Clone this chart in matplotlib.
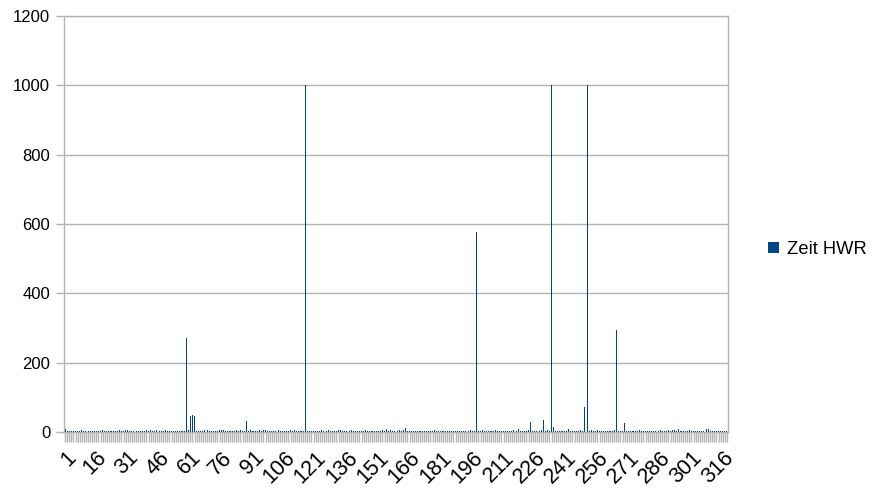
import numpy as np
import matplotlib.pyplot as plt

plt.rcParams['font.family'] = ['Liberation Sans', 'DejaVu Sans']

# Zeit HWR, one value per category 1..318 (rows of 15)
zeit_hwr = [
    10, 4, 4, 4, 4, 4, 4, 4, 6, 4, 4, 4, 4, 4, 4,
    4, 4, 4, 6, 4, 4, 4, 4, 4, 4, 4, 6, 4, 4, 6,
    6, 4, 4, 4, 4, 4, 4, 4, 4, 5, 4, 6, 4, 4, 5,
    4, 4, 4, 6, 4, 4, 4, 4, 4, 4, 4, 4, 4, 270, 6,
    45, 48, 46, 4, 4, 4, 4, 6, 6, 4, 4, 4, 4, 4, 6,
    6, 6, 4, 4, 4, 4, 4, 6, 4, 6, 4, 4, 32, 4, 6,
    4, 4, 4, 6, 4, 6, 6, 4, 4, 4, 4, 4, 6, 4, 4,
    4, 4, 4, 6, 4, 6, 4, 4, 4, 4, 1000, 4, 4, 4, 4,
    4, 4, 4, 6, 4, 4, 6, 4, 4, 4, 4, 6, 6, 4, 4,
    4, 4, 6, 4, 4, 4, 4, 4, 4, 6, 4, 4, 4, 4, 4,
    4, 4, 6, 4, 9, 4, 6, 4, 4, 4, 6, 4, 6, 12, 4,
    4, 4, 4, 4, 4, 4, 4, 4, 4, 4, 4, 4, 6, 4, 4,
    4, 4, 4, 4, 4, 4, 4, 4, 4, 4, 4, 4, 4, 4, 6,
    4, 4, 577, 4, 4, 6, 4, 4, 4, 4, 4, 6, 4, 4, 4,
    4, 4, 4, 4, 4, 6, 4, 9, 4, 4, 4, 4, 6, 29, 4,
    4, 4, 4, 6, 36, 4, 6, 4, 1000, 14, 4, 4, 4, 4, 4,
    4, 9, 4, 4, 4, 4, 4, 6, 4, 72, 1000, 4, 6, 4, 4,
    6, 4, 4, 4, 4, 4, 4, 4, 6, 294, 4, 4, 4, 26, 4,
    4, 4, 4, 4, 4, 6, 4, 4, 4, 4, 4, 4, 4, 4, 4,
    6, 4, 4, 4, 6, 4, 6, 6, 4, 9, 4, 4, 4, 4, 6,
    4, 4, 4, 4, 4, 4, 4, 9, 9, 4, 4, 4, 4, 4, 4,
    4, 4, 4,
]
categories = list(range(1, len(zeit_hwr) + 1))
tick_labels = [str(c) if (c - 1) % 15 == 0 else '' for c in categories]

fig = plt.figure(figsize=(8.88, 4.99), dpi=100)
ax = fig.add_axes([0.0721, 0.1343, 0.7477, 0.8337])

ax.bar(categories, zeit_hwr, width=0.5, color='#004586', linewidth=0,
       antialiased=False, label='Zeit HWR', zorder=3)

ax.set_xlim(0.5, len(categories) + 0.5)
ax.set_ylim(0, 1200)
ax.set_yticks(np.arange(0, 1201, 200))
ax.grid(axis='y', color='#b3b3b3', linewidth=1, zorder=0)

ax.set_xticks(categories)
ax.set_xticklabels(tick_labels, rotation=45, ha='right', va='top',
                   rotation_mode='anchor', fontsize=15.5)
ax.tick_params(axis='x', length=7, width=1, color='#b3b3b3', pad=4)
ax.tick_params(axis='y', length=6, width=1, color='#b3b3b3', labelsize=12, pad=4)
for s in ax.spines.values():
    s.set_color('#b3b3b3')
    s.set_linewidth(1)

fig.legend(loc='center left', bbox_to_anchor=(0.846, 0.5), frameon=False,
           fontsize=13.2, handlelength=0.6, handleheight=0.6, handletextpad=0.45)

fig.savefig('out.png', dpi=100)
